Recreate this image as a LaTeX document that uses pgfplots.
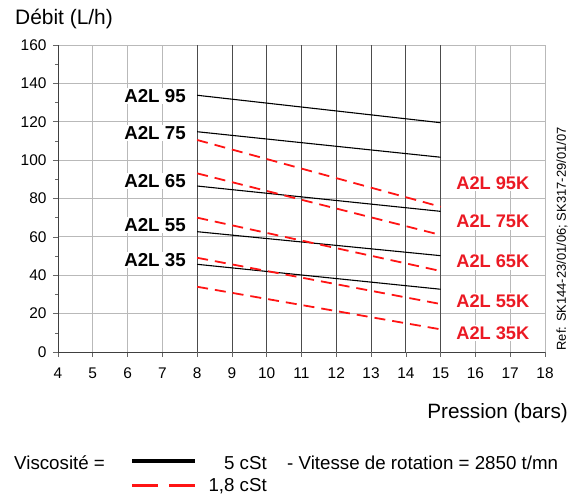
\documentclass[border=0pt]{standalone}
\usepackage{fontspec}
\setmainfont{Liberation Sans}
\usepackage{pgfplots}
\pgfplotsset{compat=1.18}
\definecolor{myred}{RGB}{255,20,20}
\definecolor{txtred}{RGB}{235,25,35}
\begin{document}
\begin{tikzpicture}[x=1bp,y=1bp]
\useasboundingbox (0,0) rectangle (585,497);
\begin{axis}[
  at={(58bp,145bp)}, anchor=south west,
  width=487bp, height=307bp, scale only axis,
  xmin=4, xmax=18, ymin=0, ymax=160,
  axis lines=left, axis line style={-, black!75, line width=0.8pt},
  xtick={4,...,18}, ytick={0,20,...,160}, minor ytick={10,30,...,150},
  tick align=outside, major tick length=5bp, minor tick length=3bp,
  tick style={black!60, line width=0.6pt},
  grid=major, major grid style={gray!55, line width=0.8pt},
  extra x ticks={8,...,15},
  extra x tick style={grid=major, major grid style={black!70, line width=0.8pt}, xticklabel={}},
  ticklabel style={font=\fontsize{15.5}{17}\selectfont},
  xticklabel style={yshift=-7bp},
  yticklabel style={xshift=-3bp},
  /pgf/number format/assume math mode=true,
  clip=false,
]
\addplot[black, line width=1.1bp] coordinates {(8,133.8) (15,119.5)};
\addplot[black, line width=1.1bp] coordinates {(8,114.8) (15,101.5)};
\addplot[black, line width=1.1bp] coordinates {(8,86.5) (15,73.3)};
\addplot[black, line width=1.1bp] coordinates {(8,62.7) (15,50.2)};
\addplot[black, line width=1.1bp] coordinates {(8,45.7) (15,32.7)};
\addplot[myred, line width=1.8bp, dash pattern=on 11bp off 7bp] coordinates {(8,110.5) (15,75.7)};
\addplot[myred, line width=1.8bp, dash pattern=on 11bp off 7bp] coordinates {(8,93.1) (15,61.0)};
\addplot[myred, line width=1.8bp, dash pattern=on 11bp off 7bp] coordinates {(8,70.0) (15,42.2)};
\addplot[myred, line width=1.8bp, dash pattern=on 11bp off 7bp] coordinates {(8,49.1) (15,25.0)};
\addplot[myred, line width=1.8bp, dash pattern=on 11bp off 7bp] coordinates {(8,34.0) (15,11.8)};
\tikzset{blab/.style={anchor=east, fill=white, inner sep=1.5bp, font=\bfseries\fontsize{18.8}{21}\selectfont},
         rlab/.style={anchor=center, fill=white, inner sep=1.5bp, text=txtred, font=\bfseries\fontsize{18.3}{21}\selectfont}}
\node[blab] at (axis cs:7.72,133.4) {A2L 95};
\node[blab] at (axis cs:7.72,114.0) {A2L 75};
\node[blab] at (axis cs:7.72,89.1) {A2L 65};
\node[blab] at (axis cs:7.72,66.2) {A2L 55};
\node[blab] at (axis cs:7.72,47.9) {A2L 35};
\node[rlab] at (axis cs:16.5,88.1) {A2L 95K};
\node[rlab] at (axis cs:16.5,67.9) {A2L 75K};
\node[rlab] at (axis cs:16.5,47.1) {A2L 65K};
\node[rlab] at (axis cs:16.5,26.6) {A2L 55K};
\node[rlab] at (axis cs:16.5,9.9) {A2L 35K};
\end{axis}
\node[anchor=base west, inner sep=0pt, font=\fontsize{21}{24}\selectfont] at (15,472) {Débit (L/h)};
\node[anchor=base east, inner sep=0pt, font=\fontsize{20.8}{24}\selectfont] at (568,78) {Pression (bars)};
\node[rotate=90, inner sep=0pt, font=\fontsize{13}{15}\selectfont] at (562,258) {Ref: SK144-23/01/06; SK317-29/01/07};
\tikzset{leg/.style={inner sep=0pt, font=\fontsize{18.8}{21}\selectfont}}
\node[leg, anchor=base west] at (14,27) {Viscosité =};
\draw[black, line width=3.3bp] (132,36) -- (195,36);
\node[leg, anchor=base east] at (267,27) {5 cSt};
\node[leg, anchor=base west] at (287,27) {- Vitesse de rotation = 2850 t/mn};
\draw[myred, line width=3bp, dash pattern=on 26bp off 11bp] (132,11.3) -- (195,11.3);
\node[leg, anchor=base east] at (267,5) {1,8 cSt};
\end{tikzpicture}
\end{document}
